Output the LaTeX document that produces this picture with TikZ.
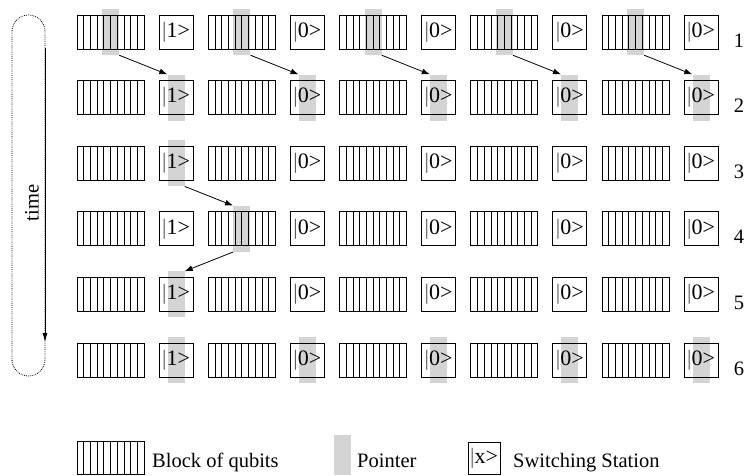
\documentclass[tikz,border=0pt]{standalone}
\usepackage{fontspec}
\setmainfont{Liberation Serif}
\usetikzlibrary{arrows.meta,backgrounds}
\definecolor{ptrgray}{gray}{0.83}
\newcommand{\ket}[1]{{\color{black!65}|}#1\textgreater}
\begin{document}
\begin{tikzpicture}[x=1pt,y=-1pt,
  every node/.style={font=\fontsize{20.5}{24}\selectfont},
  block/.style={draw, line width=0.9pt, minimum width=67pt, minimum height=34pt, inner sep=0pt,
    path picture={\foreach \i in {1,...,9}
      \draw[line width=0.7pt] ([xshift=\i*6.7pt]path picture bounding box.north west) --
                               ([xshift=\i*6.7pt]path picture bounding box.south west);}},
  switchbox/.style={draw, line width=0.9pt, minimum width=34pt, minimum height=34pt, inner sep=0pt,
    font=\fontsize{22}{24}\selectfont},
  ptr/.style={fill=ptrgray, draw=none, minimum width=17pt, minimum height=46pt, inner sep=0pt},
  arr/.style={-{Latex[length=8pt,width=6pt]}, line width=0.8pt},
  rownum/.style={anchor=base, inner sep=0pt},
  legendtext/.style={anchor=base west, inner sep=0pt}]
\useasboundingbox (0,0) rectangle (749,475);

% grid of qubit blocks and switching stations
\foreach \r in {1,...,6} {
  \pgfmathsetmacro\T{15+65.6*(\r-1)}
  \foreach \c in {1,...,5} {
    \pgfmathsetmacro\B{77+131.25*(\c-1)}
    \node[block] (b-\r-\c) at (\B+33.5,\T+17) {};
    \ifnum\c=1
      \node[switchbox] (s-\r-\c) at (\B+99,\T+17) {\ket{1}};
    \else
      \node[switchbox] (s-\r-\c) at (\B+99,\T+17) {\ket{0}};
    \fi
  }
  \node[rownum] (n-\r) at (739,\T+32) {\r};
}

% pointers, behind the boxes
\begin{scope}[on background layer]
  \foreach \c in {1,...,5} {
    \node[ptr] (pb-1-\c) at (b-1-\c) {};
    \node[ptr] (ps-2-\c) at (s-2-\c) {};
    \node[ptr] (ps-6-\c) at (s-6-\c) {};
  }
  \node[ptr] (ps-3-1) at (s-3-1) {};
  \node[ptr] (pb-4-2) at (b-4-2) {};
  \node[ptr] (ps-5-1) at (s-5-1) {};
\end{scope}

% pointer moves
\foreach \c in {1,...,5}
  \draw[arr] (pb-1-\c.south east) -- (ps-2-\c.north west);
\draw[arr] (ps-3-1.south east) -- (pb-4-2.north west);
\draw[arr] (pb-4-2.south west) -- (ps-5-1.north east);

% time axis
\draw[line width=0.8pt, dash pattern=on 0.8pt off 1.1pt, rounded corners=16.5pt] (12,15) rectangle (45,376);
\coordinate (t0) at (45,48);
\coordinate (t1) at (45,342);
\draw[line width=0.9pt, -{Latex[length=9pt,width=5pt]}] (t0) -- (t1);
\node[rotate=90] (time) at (32,203) {time};

% legend
\node[block, minimum height=33pt] (lb) at (110.5,457.5) {};
\node[legendtext] (lbt) at (152,467) {Block of qubits};
\node[ptr, minimum height=40pt] (lp) at (342.5,455) {};
\node[legendtext] (lpt) at (357,467) {Pointer};
\node[switchbox, minimum width=32pt, minimum height=32pt] (ls) at (484,458) {\ket{x}};
\node[legendtext] (lst) at (513,467) {Switching Station};
\end{tikzpicture}
\end{document}
